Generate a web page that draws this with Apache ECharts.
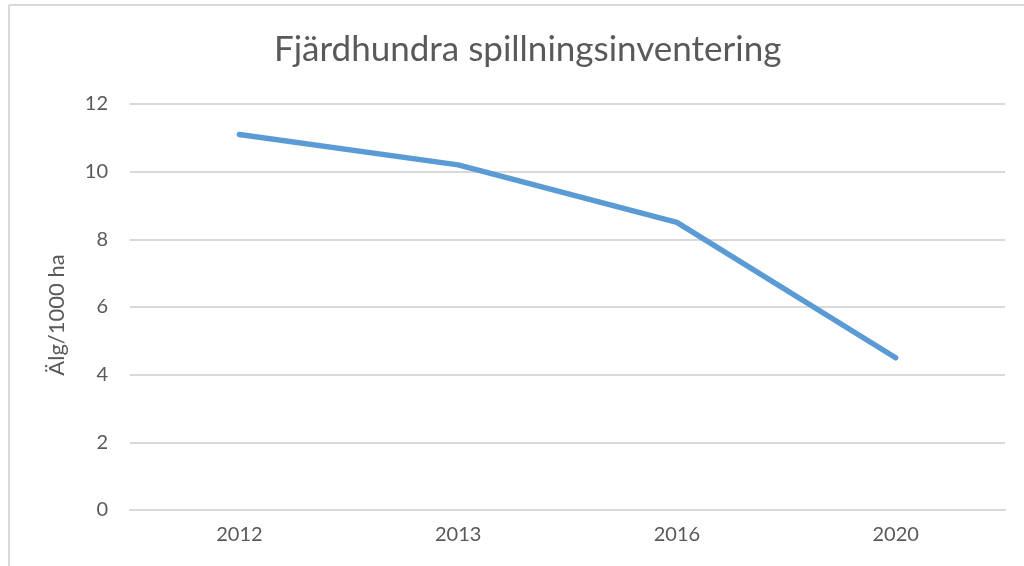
<!DOCTYPE html>
<html>
<head>
<meta charset="utf-8">
<script src="https://cdn.jsdelivr.net/npm/echarts@6/dist/echarts.min.js"></script>
<style>
  html, body { margin: 0; padding: 0; background: #fff; }
  #main { width: 1024px; height: 566px; }
</style>
</head>
<body>
<div id="main"></div>
<script>
// data
var years = ['2012', '2013', '2016', '2020'];
var algPer1000 = [11.1, 10.2, 8.5, 4.5];
var yTicks = [0, 12, 2]; // min, max, interval

var chart = echarts.init(document.getElementById('main'));

var option = {
    backgroundColor: '#fff',
    title: {
        text: 'Fjärdhundra spillningsinventering',
        left: 269,
        top: 27,
        textStyle: {
            color: '#595959',
            fontFamily: 'Lato',
            fontWeight: 'normal',
            fontSize: 35
        }
    },
    graphic: [
        { type: 'line', shape: { x1: 9, y1: 5, x2: 1024, y2: 5 }, style: { stroke: '#d9d9d9', lineWidth: 2 } },
        { type: 'line', shape: { x1: 9, y1: 5, x2: 9, y2: 566 }, style: { stroke: '#d9d9d9', lineWidth: 2 } }
    ],
    grid: {
        left: 130,
        right: 19,
        top: 104,
        bottom: 56
    },
    xAxis: {
        type: 'category',
        data: years,
        boundaryGap: true,
        axisLine: { lineStyle: { color: '#d9d9d9', width: 2 } },
        axisTick: { show: false },
        axisLabel: { color: '#595959', fontSize: 20, fontFamily: 'Lato', margin: 15 }
    },
    yAxis: {
        type: 'value',
        min: yTicks[0],
        max: yTicks[1],
        interval: yTicks[2],
        name: 'Älg/1000 ha',
        nameLocation: 'middle',
        nameGap: 62,
        nameTextStyle: { color: '#595959', fontSize: 22, fontFamily: 'Lato', padding: [0, 16, 0, 0] },
        axisLine: { show: false },
        axisTick: { show: false },
        axisLabel: { color: '#595959', fontSize: 20, fontFamily: 'Lato', margin: 22 },
        splitLine: { lineStyle: { color: '#d9d9d9', width: 2 } }
    },
    series: [{
        type: 'line',
        data: algPer1000,
        symbol: 'none',
        lineStyle: { color: '#5b9bd5', width: 5.5, cap: 'round' },
        itemStyle: { color: '#5b9bd5' }
    }]
};

chart.setOption(option);
</script>
</body>
</html>
